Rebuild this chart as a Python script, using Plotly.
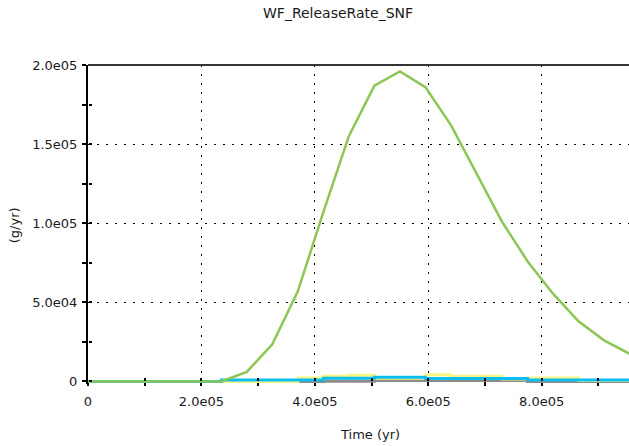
import plotly.graph_objects as go

# Time samples (yr)
time_yr = [0, 55000, 100000, 145000, 190000, 235000, 280000, 325000, 370000,
           415000, 460000, 505000, 550000, 595000, 640000, 685000, 730000,
           775000, 820000, 865000, 910000, 955000, 1000000]

# Release rates (g/yr)
rate_main = [0, 0, 0, 0, 0, 0, 6000, 23500, 57000, 107000, 155000, 187000,
             196000, 186000, 162000, 132000, 101000, 76000, 55500, 38000,
             26000, 17500, 12000]
rate_yellow = [0, 0, 0, 0, 0, 0, 0, 0, 2200, 3300, 3900, 2000, 2000, 4300,
               3300, 3300, 1500, 2200, 2200, 600, 600, 600, 600]
rate_cyan = [0, 0, 0, 0, 0, 900, 900, 900, 900, 2000, 2000, 2600, 2600, 1800,
             1800, 1800, 1800, 900, 900, 900, 900, 900, 900]
rate_gray = [0, 0, 0, 0, 0, 0, 0, 0, 0, 200, 200, 600, 600, 600, 600, 600,
             600, 0, 0, 0, 0, 0, 0]

x_tickvals = [0, 200000, 400000, 600000, 800000]
x_ticktext = ["0", "2.0e05", "4.0e05", "6.0e05", "8.0e05"]
y_tickvals = [0, 50000, 100000, 150000, 200000]
y_ticktext = ["0", "5.0e04", "1.0e05", "1.5e05", "2.0e05"]

W, H = 629, 446
L, T = 88, 65
PX_PER_UNIT = 316 / 200000.0
Y_MIN = -1600
X_MAX = 954000
plot_h = PX_PER_UNIT * (200000 - Y_MIN)
B = H - T - plot_h
zero_pos = (-Y_MIN * PX_PER_UNIT) / plot_h

FONT = "DejaVu Sans"
TXT = "#1a1a1a"

fig = go.Figure()
fig.add_trace(go.Scatter(x=time_yr, y=rate_gray, mode="lines", line_shape="hv",
                         line=dict(color="#8c8c8c", width=3)))
fig.add_trace(go.Scatter(x=time_yr, y=rate_yellow, mode="lines", line_shape="hv",
                         line=dict(color="#f6f680", width=3)))
fig.add_trace(go.Scatter(x=time_yr, y=rate_cyan, mode="lines", line_shape="hv",
                         line=dict(color="#0cbef2", width=3)))
fig.add_trace(go.Scatter(x=time_yr, y=rate_main, mode="lines",
                         line=dict(color="#8dc655", width=2.5)))
# empty trace that carries the overlay axes used for the inner half of the ticks
fig.add_trace(go.Scatter(x=[], y=[], xaxis="x2", yaxis="y2", mode="lines"))

grid = dict(showgrid=True, gridcolor="#000000", gridwidth=1.3, griddash="1.5px,7.5px")

fig.update_layout(
    width=W, height=H,
    margin=dict(l=L, r=0, t=T, b=B, pad=0),
    paper_bgcolor="white", plot_bgcolor="white",
    showlegend=False,
    font=dict(family=FONT, size=13, color=TXT),
    xaxis=dict(range=[0, X_MAX], anchor="free", position=zero_pos,
               tickmode="array", tickvals=x_tickvals, ticktext=x_ticktext,
               ticks="outside", ticklen=4, tickwidth=1.5, tickcolor="#000",
               minor=dict(tickmode="linear", tick0=0, dtick=100000, ticks="outside",
                          ticklen=4, tickwidth=1.5, tickcolor="#000", showgrid=False),
               showline=False, zeroline=False, ticklabelstandoff=4,
               layer="below traces", **grid),
    yaxis=dict(range=[Y_MIN, 200000], tickmode="array", tickvals=y_tickvals,
               ticktext=y_ticktext, ticks="outside", ticklen=4, tickwidth=1.5,
               tickcolor="#000",
               minor=dict(tickmode="linear", tick0=0, dtick=25000, ticks="outside",
                          ticklen=4, tickwidth=1.5, tickcolor="#000", showgrid=False),
               showline=True, linecolor="#000", linewidth=2, zeroline=False,
               ticklabelstandoff=2, layer="below traces", **grid),
    xaxis2=dict(range=[0, X_MAX], overlaying="x", anchor="free", position=zero_pos,
                tickmode="array", tickvals=x_tickvals, showticklabels=False,
                ticks="inside", ticklen=3, tickwidth=1.5, tickcolor="#000",
                minor=dict(tickmode="linear", tick0=0, dtick=100000, ticks="inside",
                           ticklen=3, tickwidth=1.5, tickcolor="#000"),
                showgrid=False, showline=False, zeroline=False, layer="above traces"),
    yaxis2=dict(range=[Y_MIN, 200000], overlaying="y", anchor="free", position=0,
                tickmode="array", tickvals=y_tickvals, showticklabels=False,
                ticks="inside", ticklen=3, tickwidth=1.5, tickcolor="#000",
                minor=dict(tickmode="linear", tick0=0, dtick=25000, ticks="inside",
                           ticklen=3, tickwidth=1.5, tickcolor="#000"),
                showgrid=False, showline=False, zeroline=False, layer="above traces"),
)

# top frame line
fig.add_shape(type="line", xref="paper", yref="paper", x0=0, x1=1, y0=1, y1=1,
              line=dict(color="#333333", width=2))

def px_x(p):
    return (p - L) / (W - L)

def px_y(q):
    return (T + plot_h - q) / plot_h

fig.add_annotation(text="WF_ReleaseRate_SNF", xref="paper", yref="paper",
                   x=px_x(338), y=px_y(13), showarrow=False,
                   xanchor="center", yanchor="middle",
                   font=dict(family=FONT, size=14, color=TXT))
fig.add_annotation(text="Time (yr)", xref="paper", yref="paper",
                   x=px_x(370), y=px_y(434), showarrow=False,
                   xanchor="center", yanchor="middle",
                   font=dict(family=FONT, size=13, color=TXT))
fig.add_annotation(text="(g/yr)", xref="paper", yref="paper",
                   x=px_x(14), y=px_y(225), showarrow=False, textangle=-90,
                   xanchor="center", yanchor="middle",
                   font=dict(family=FONT, size=13, color=TXT))

fig.write_html("out.html")
